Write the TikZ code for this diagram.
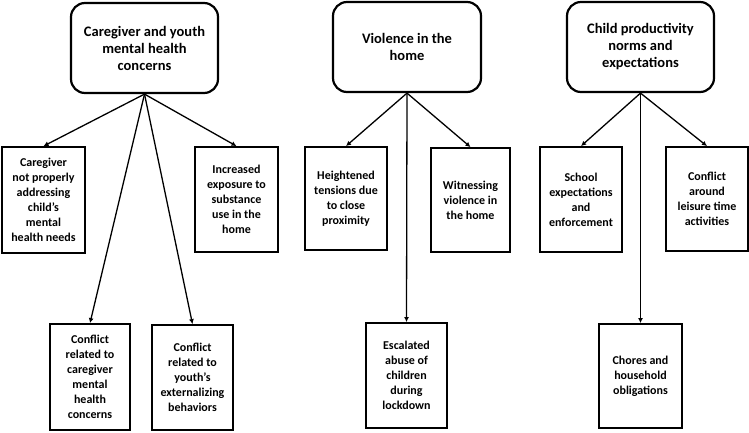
\documentclass[tikz,border=0pt]{standalone}
\usepackage{fontspec}
\setmainfont{Carlito}
\usetikzlibrary{arrows.meta}

\begin{document}
\begin{tikzpicture}[x=1pt, y=-1pt,
  theme/.style={draw, line width=2.2pt, rounded corners=14pt, align=center,
    font=\fontsize{14.5}{17}\selectfont\bfseries, inner sep=2pt},
  item/.style={draw, line width=1.8pt, align=center,
    font=\fontsize{12}{15}\selectfont\bfseries, inner sep=1pt},
  link/.style={-{Latex[length=5pt,width=5pt]}, line width=1.3pt}]

  \useasboundingbox (0,0) rectangle (749,432);

  %% themes
  \node[theme, minimum width=147pt, minimum height=90pt] (care) at (144.5,48)
    {Caregiver and youth\\mental health\\concerns};
  \node[theme, minimum width=148pt, minimum height=90pt] (viol) at (407,47)
    {Violence in the\\home};
  \node[theme, minimum width=147pt, minimum height=90pt] (prod) at (640.5,47)
    {Child productivity\\norms and\\expectations};

  %% caregiver and youth mental health
  \node[item, minimum width=83pt, minimum height=106pt] (careA) at (43.5,200)
    {Caregiver\\not properly\\addressing\\child’s\\mental\\health needs};
  \node[item, minimum width=83pt, minimum height=105pt] (careB) at (236.5,199.5)
    {Increased\\exposure to\\substance\\use in the\\home};
  \node[item, minimum width=80pt, minimum height=106pt] (careC) at (90,377)
    {Conflict\\related to\\caregiver\\mental\\health\\concerns};
  \node[item, minimum width=81pt, minimum height=105pt] (careD) at (192.5,377.5)
    {Conflict\\related to\\youth’s\\externalizing\\behaviors};

  %% violence in the home
  \node[item, minimum width=82pt, minimum height=103pt] (violA) at (346,198.5)
    {Heightened\\tensions due\\to close\\proximity};
  \node[item, minimum width=79pt, minimum height=104pt] (violB) at (470.5,200)
    {Witnessing\\violence in\\the home};
  \node[item, minimum width=81pt, minimum height=105pt] (violC) at (406.5,375.5)
    {Escalated\\abuse of\\children\\during\\lockdown};

  %% child productivity
  \node[item, minimum width=82pt, minimum height=105pt] (prodA) at (581,199.5)
    {School\\expectations\\and\\enforcement};
  \node[item, minimum width=82pt, minimum height=104pt] (prodB) at (707,199)
    {Conflict\\around\\leisure time\\activities};
  \node[item, minimum width=83pt, minimum height=104pt] (prodC) at (640.5,376)
    {Chores and\\household\\obligations};

  \draw[link] (care.south) -- (careA.north);
  \draw[link] (care.south) -- (careB.north);
  \draw[link] (care.south) -- (careC.north);
  \draw[link] (care.south) -- (careD.north);

  \draw[link] (viol.south) -- (violA.north);
  \draw[link] (viol.south) -- (violB.north);
  \draw[link] (viol.south) -- (violC.north);

  \draw[link] (prod.south) -- (prodA.north);
  \draw[link] (prod.south) -- (prodB.north);
  \draw[link] (prod.south) -- (prodC.north);
\end{tikzpicture}
\end{document}
